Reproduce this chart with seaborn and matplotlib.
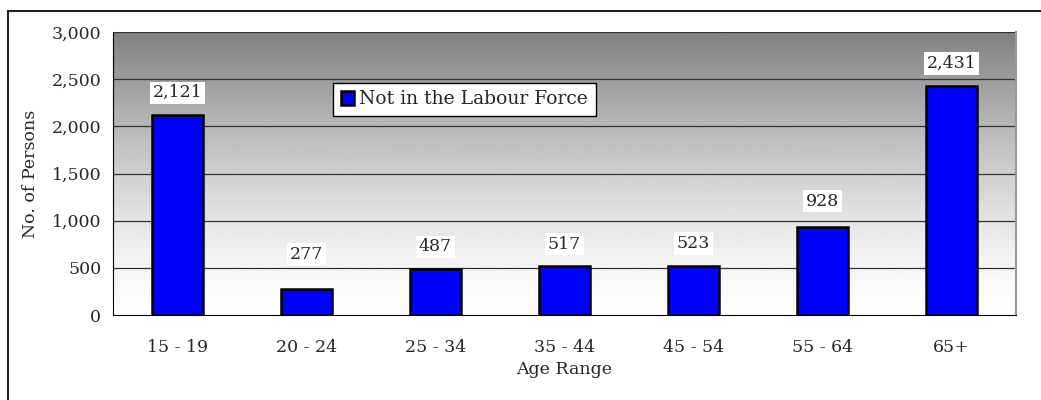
import matplotlib
matplotlib.use("Agg")
import matplotlib.pyplot as plt
import numpy as np
import seaborn as sns
from matplotlib.patches import Rectangle
from matplotlib.ticker import FuncFormatter, FixedLocator

# data
age_ranges = ["15 - 19", "20 - 24", "25 - 34", "35 - 44", "45 - 54", "55 - 64", "65+"]
persons = [2121, 277, 487, 517, 523, 928, 2431]
series_name = "Not in the Labour Force"

sns.set_style("white")
plt.rcParams["font.family"] = ["DejaVu Serif"]
FS = 12.5

fig = plt.figure(figsize=(10.41, 4.0), dpi=100)
ax = fig.add_axes([113 / 1041, 85 / 400, (1016 - 113) / 1041, (315 - 32) / 400])

sns.barplot(x=age_ranges, y=persons, color="#0000FF", edgecolor="black",
            linewidth=1.8, width=0.4, saturation=1, label=series_name, ax=ax, zorder=3)

ax.set_xlim(-0.5, len(age_ranges) - 0.5)
ax.set_ylim(0, 3000)

# gradient background, grey at top fading to white
t = np.linspace(0, 1, 256)
shade = 255 - 127 * t ** 1.4
ax.imshow(shade[:, None], origin="lower", cmap="gray", vmin=0, vmax=255,
          extent=(-0.5, len(age_ranges) - 0.5, 0, 3000), aspect="auto", zorder=0)

ax.set_yticks(range(0, 3001, 500))
ax.yaxis.set_major_formatter(FuncFormatter(lambda v, p: f"{int(v):,}"))
for yv in range(500, 3001, 500):
    ax.axhline(yv, color="#333333", lw=0.9, zorder=1)

# category labels centered, ticks at category boundaries
ax.set_xticks(range(len(age_ranges)))
ax.set_xticklabels(age_ranges)
ax.tick_params(axis="x", which="major", length=0, pad=17, labelsize=FS)
ax.xaxis.set_minor_locator(FixedLocator(np.arange(-0.5, len(age_ranges), 1)))
ax.tick_params(axis="x", which="minor", length=7, direction="out", width=1, color="#333333")
ax.tick_params(axis="y", length=7, direction="inout", width=1, labelsize=FS, pad=5)

ax.spines["top"].set_visible(False)
ax.spines["left"].set_color("black")
ax.spines["bottom"].set_color("black")
ax.spines["right"].set_color("#999999")
ax.spines["right"].set_linewidth(1.5)

# value labels; small labels sit a bit higher (as in the source chart)
for i, v in enumerate(persons):
    dy = 25 if v < 300 else (19 if 900 < v < 1000 else 16)
    ax.annotate(f"{v:,}", (i, v), xytext=(0, dy), textcoords="offset points",
                ha="center", va="center", fontsize=FS, zorder=5,
                bbox=dict(boxstyle="square,pad=0.15", fc="white", ec="none"))

ax.set_xlabel("Age Range", fontsize=FS, labelpad=4)
ax.set_ylabel("No. of Persons", fontsize=FS, labelpad=9)

leg = ax.legend(loc="upper left", bbox_to_anchor=((333 - 113) / 903, (315 - 83) / 283),
                fontsize=13.5, frameon=True, fancybox=False, handlelength=0.7,
                handleheight=0.7, handletextpad=0.3, borderpad=0.4, borderaxespad=0)
leg.get_frame().set_edgecolor("black")
leg.get_frame().set_linewidth(1.0)
leg.get_frame().set_facecolor("white")
leg.get_frame().set_alpha(1)

# outer chart frame (partly cut off in the source image)
fig.add_artist(Rectangle((8 / 1041, -0.1), 1.2, 1.1 - 11 / 400, fill=False,
                         ec="#222222", lw=1.5, transform=fig.transFigure, clip_on=False))

fig.savefig("out.png", dpi=100)
